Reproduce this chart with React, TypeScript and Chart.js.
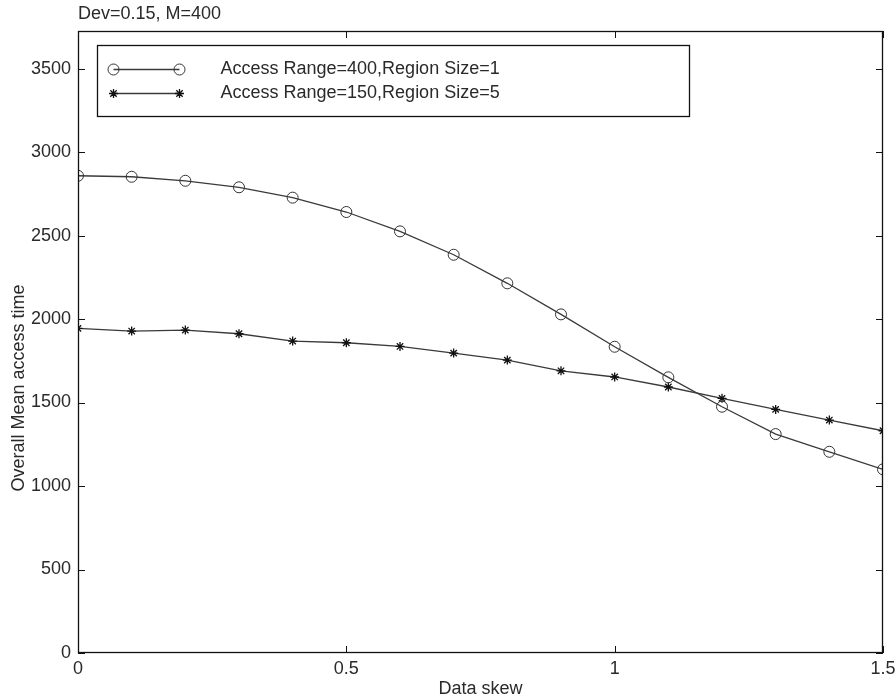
import React, { useEffect, useRef } from 'react';
import { Chart, registerables } from 'chart.js';

Chart.register(...registerables);

// ---- data ----
const skew = [0, 0.1, 0.2, 0.3, 0.4, 0.5, 0.6, 0.7, 0.8, 0.9, 1.0, 1.1, 1.2, 1.3, 1.4, 1.5];
const range400 = [2858, 2852, 2828, 2789, 2727, 2641, 2525, 2385, 2214, 2028, 1834, 1651, 1475, 1311, 1205, 1100];
const range150 = [1944, 1928, 1934, 1912, 1868, 1858, 1836, 1796, 1754, 1690, 1653, 1593, 1525, 1459, 1395, 1331];
const seriesLabels = ['Access Range=400,Region Size=1', 'Access Range=150,Region Size=5'];
const xTickValues = [0, 0.5, 1, 1.5];
const yTickValues = [0, 500, 1000, 1500, 2000, 2500, 3000, 3500];
const titleText = 'Dev=0.15, M=400';
const xTitle = 'Data skew';
const yTitle = 'Overall Mean access time';

const FONT = '"Liberation Sans", Arial, Helvetica, sans-serif';
const FSIZE = 18;
const TEXT = '#2a2a2a';
const LINE = '#3a3a3a';

function drawMarker(ctx: CanvasRenderingContext2D, style: string, x: number, y: number, r: number) {
  ctx.beginPath();
  if (style === 'circle') {
    ctx.arc(x, y, r, 0, Math.PI * 2);
  } else {
    for (let k = 0; k < 4; k++) {
      const a = (k * Math.PI) / 4;
      ctx.moveTo(x - Math.cos(a) * r, y - Math.sin(a) * r);
      ctx.lineTo(x + Math.cos(a) * r, y + Math.sin(a) * r);
    }
  }
  ctx.stroke();
}

const framePlugin = {
  id: 'matlabFrame',
  afterDatasetsDraw(chart: any) {
    const { ctx, chartArea: a, scales } = chart;
    const xs = scales.x;
    const ys = scales.y;
    ctx.save();
    // frame
    ctx.strokeStyle = '#111';
    ctx.lineWidth = 1.3;
    ctx.strokeRect(a.left + 0.5, a.top + 0.5, a.right - a.left - 1, a.bottom - a.top - 1);
    // inward ticks
    const tl = 7;
    ctx.lineWidth = 1;
    ctx.beginPath();
    xTickValues.forEach((v) => {
      const px = Math.round(xs.getPixelForValue(v)) + 0.5;
      ctx.moveTo(px, a.bottom);
      ctx.lineTo(px, a.bottom - tl);
      ctx.moveTo(px, a.top);
      ctx.lineTo(px, a.top + tl);
    });
    yTickValues.forEach((v) => {
      const py = Math.round(ys.getPixelForValue(v)) + 0.5;
      ctx.moveTo(a.left, py);
      ctx.lineTo(a.left + tl, py);
      ctx.moveTo(a.right, py);
      ctx.lineTo(a.right - tl, py);
    });
    ctx.stroke();

    // texts
    ctx.fillStyle = TEXT;
    ctx.font = `${FSIZE}px ${FONT}`;
    ctx.textAlign = 'left';
    ctx.textBaseline = 'middle';
    ctx.fillText(titleText, a.left, 14);
    ctx.textAlign = 'center';
    ctx.fillText(xTitle, (a.left + a.right) / 2, 689);
    ctx.save();
    ctx.translate(19, 388);
    ctx.rotate(-Math.PI / 2);
    ctx.fillText(yTitle, 0, 0);
    ctx.restore();

    // legend
    const lx = a.left + 19.5;
    const ly = a.top + 14.5;
    const lw = 592;
    const lh = 71;
    ctx.fillStyle = '#fff';
    ctx.fillRect(lx, ly, lw, lh);
    ctx.strokeStyle = '#111';
    ctx.lineWidth = 1.3;
    ctx.strokeRect(lx, ly, lw, lh);
    chart.data.datasets.forEach((ds: any, i: number) => {
      const y = ly + 24 + i * 24;
      const x0 = lx + 16;
      const x1 = lx + 82;
      ctx.strokeStyle = ds.borderColor;
      ctx.lineWidth = ds.borderWidth;
      ctx.beginPath();
      ctx.moveTo(x0, y);
      ctx.lineTo(x1, y);
      ctx.stroke();
      ctx.lineWidth = ds.pointBorderWidth;
      ctx.strokeStyle = ds.pointBorderColor;
      drawMarker(ctx, ds.pointStyle, x0, y, ds.pointRadius);
      drawMarker(ctx, ds.pointStyle, x1, y, ds.pointRadius);
      ctx.fillStyle = TEXT;
      ctx.font = `${FSIZE}px ${FONT}`;
      ctx.textAlign = 'left';
      ctx.textBaseline = 'middle';
      ctx.fillText(ds.label, lx + 123, y);
    });
    ctx.restore();
  },
};

export default function App() {
  const ref = useRef<HTMLCanvasElement | null>(null);

  useEffect(() => {
    document.body.style.margin = '0';
    const canvas = ref.current;
    if (!canvas) return;
    const chart = new Chart(canvas, {
      type: 'line',
      data: {
        datasets: [
          {
            label: seriesLabels[0],
            data: skew.map((x, i) => ({ x, y: range400[i] })),
            borderColor: LINE,
            borderWidth: 1.3,
            pointStyle: 'circle',
            pointRadius: 5.5,
            pointBorderWidth: 1,
            pointBorderColor: '#333',
            pointBackgroundColor: 'rgba(0,0,0,0)',
            fill: false,
            tension: 0,
          },
          {
            label: seriesLabels[1],
            data: skew.map((x, i) => ({ x, y: range150[i] })),
            borderColor: LINE,
            borderWidth: 1.3,
            pointStyle: 'star',
            pointRadius: 4.5,
            pointBorderWidth: 1.3,
            pointBorderColor: '#111',
            pointBackgroundColor: 'rgba(0,0,0,0)',
            fill: false,
            tension: 0,
          },
        ],
      },
      options: {
        animation: false,
        responsive: false,
        events: [],
        layout: { padding: { top: 31, right: 13, left: 0, bottom: 0 } },
        plugins: {
          legend: { display: false },
          tooltip: { enabled: false },
          title: { display: false },
        },
        scales: {
          x: {
            type: 'linear',
            min: 0,
            max: 1.5,
            grid: { display: false, drawTicks: false },
            border: { display: false },
            afterFit: (s: any) => {
              s.height = 46;
              s.paddingLeft = 0;
              s.paddingRight = 0;
            },
            afterBuildTicks: (s: any) => {
              s.ticks = xTickValues.map((v) => ({ value: v }));
            },
            ticks: {
              color: TEXT,
              font: { family: FONT, size: FSIZE },
              padding: 5,
              maxRotation: 0,
              callback: (v: any) => String(v),
            },
          },
          y: {
            type: 'linear',
            min: 0,
            max: 3725,
            grid: { display: false, drawTicks: false },
            border: { display: false },
            afterFit: (s: any) => {
              s.width = 78;
              s.paddingTop = 0;
              s.paddingBottom = 0;
            },
            afterBuildTicks: (s: any) => {
              s.ticks = yTickValues.map((v) => ({ value: v }));
            },
            ticks: {
              color: TEXT,
              font: { family: FONT, size: FSIZE },
              padding: 7,
              callback: (v: any) => String(v),
            },
          },
        },
      },
      plugins: [framePlugin],
    });
    return () => chart.destroy();
  }, []);

  return (
    <div style={{ position: 'absolute', left: 0, top: 0, width: 896, height: 699, background: '#fff' }}>
      <canvas ref={ref} width={896} height={699} style={{ display: 'block' }} />
    </div>
  );
}
